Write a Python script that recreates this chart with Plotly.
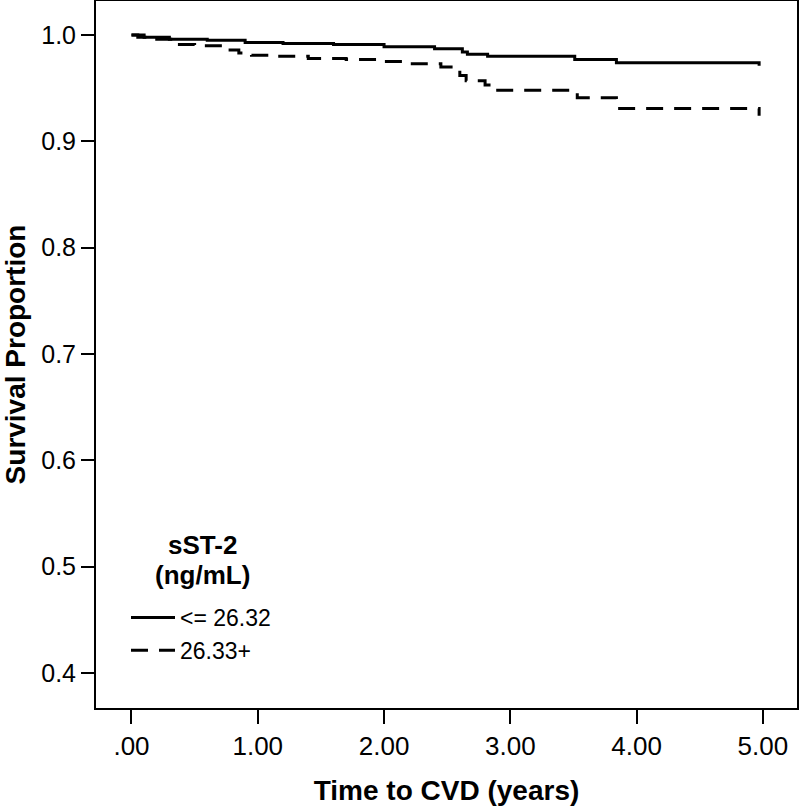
import plotly.graph_objects as go

# Kaplan-Meier step data (time in years, survival proportion)
low_time = [0.0, 0.05, 0.30, 0.60, 0.90, 1.20, 1.60, 2.00, 2.40, 2.62, 2.66, 2.82, 3.51, 3.84, 4.96, 4.97]
low_surv = [1.000, 0.998, 0.996, 0.995, 0.993, 0.992, 0.991, 0.989, 0.987, 0.984, 0.982, 0.980, 0.977, 0.974, 0.974, 0.971]

high_time = [0.0, 0.10, 0.20, 0.34, 0.50, 0.76, 0.85, 0.95, 1.10, 1.40, 1.70, 2.00, 2.20, 2.45, 2.55, 2.60, 2.65, 2.80, 2.90, 3.53, 3.84, 4.96, 4.97]
high_surv = [1.000, 0.998, 0.996, 0.991, 0.990, 0.986, 0.983, 0.981, 0.980, 0.978, 0.977, 0.975, 0.973, 0.970, 0.967, 0.962, 0.957, 0.953, 0.948, 0.941, 0.931, 0.931, 0.924]

x_tickvals = [0, 1, 2, 3, 4, 5]
x_ticktext = [".00", "1.00", "2.00", "3.00", "4.00", "5.00"]
y_tickvals = [0.4, 0.5, 0.6, 0.7, 0.8, 0.9, 1.0]
y_ticktext = ["0.4", "0.5", "0.6", "0.7", "0.8", "0.9", "1.0"]

series_names = ["<= 26.32", "26.33+"]
legend_title_lines = ["sST-2", "(ng/mL)"]

FONT = "Liberation Sans, Arial, sans-serif"

fig = go.Figure()
fig.add_trace(go.Scatter(
    x=low_time, y=low_surv, mode="lines", name=series_names[0],
    line=dict(color="black", width=3, shape="hv"),
))
fig.add_trace(go.Scatter(
    x=high_time, y=high_surv, mode="lines", name=series_names[1],
    line=dict(color="black", width=3, shape="hv", dash="17px,11px"),
))

# legend heading as centred annotations (one per line)
for line_text, ypx in zip(legend_title_lines, [545, 575]):
    fig.add_annotation(
        xref="paper", yref="paper", x=0.1525, y=(708 - ypx) / 707,
        text="<b>" + line_text + "</b>",
        showarrow=False, xanchor="center", yanchor="middle", align="center",
        font=dict(size=26, family=FONT, color="black"),
    )

fig.update_layout(
    width=800, height=806,
    margin=dict(l=96, r=3, t=1, b=98),
    paper_bgcolor="white", plot_bgcolor="white",
    font=dict(family=FONT, color="black"),
    showlegend=True,
    legend=dict(
        x=0.0428, y=0.1584, xanchor="left", yanchor="top",
        bgcolor="rgba(0,0,0,0)",
        font=dict(size=23, family=FONT, color="black"),
        itemwidth=44,
        tracegroupgap=0,
    ),
    xaxis=dict(
        range=[-0.281, 5.27], automargin=False,
        tickvals=x_tickvals, ticktext=x_ticktext,
        ticks="outside", ticklen=14, tickwidth=2, tickcolor="black",
        tickfont=dict(size=26, family=FONT, color="black"),
        showline=True, linecolor="black", linewidth=2, mirror=True,
        showgrid=False, zeroline=False,
        title=dict(text="<b>Time to CVD (years)</b>", standoff=20,
                   font=dict(size=28, family=FONT, color="black")),
    ),
    yaxis=dict(
        range=[0.367, 1.032], automargin=False,
        tickvals=y_tickvals, ticktext=y_ticktext,
        ticks="outside", ticklen=13, tickwidth=2, tickcolor="black",
        tickfont=dict(size=25, family=FONT, color="black"),
        showline=True, linecolor="black", linewidth=2, mirror=True,
        showgrid=False, zeroline=False,
        title=dict(text="<b>Survival Proportion</b>", standoff=22,
                   font=dict(size=28, family=FONT, color="black")),
    ),
)

fig.write_html("out.html", config={"displayModeBar": False},
               post_script="document.body.style.margin='0';")
